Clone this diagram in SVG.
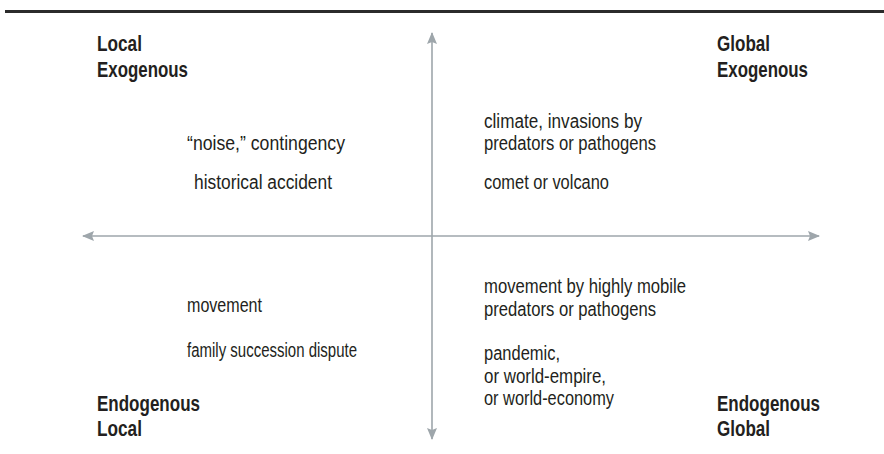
<svg xmlns="http://www.w3.org/2000/svg" width="884" height="454" viewBox="0 0 884 454">
  <style>
    .head { font-family: "Liberation Sans", "DejaVu Sans", sans-serif; font-weight: bold; font-size: 22.5px; fill: #231f20; }
    .item { font-family: "Liberation Sans", "DejaVu Sans", sans-serif; font-size: 19.5px; fill: #231f20; }
    .axis { stroke: #9ea6ab; stroke-width: 1.6; fill: none; }
  </style>
  <defs>
    <marker id="arrow" viewBox="0 0 12 10" refX="11" refY="5" markerWidth="12" markerHeight="10" markerUnits="userSpaceOnUse" orient="auto">
      <path d="M0,0 L12,5 L0,10 L2,5 Z" fill="#9ea6ab"/>
    </marker>
  </defs>

  <rect id="rule" x="5" y="10" width="879" height="3" fill="#2b2b2b"/>

  <g id="axes">
    <line class="axis" x1="432" y1="236" x2="432" y2="33" marker-end="url(#arrow)"/>
    <line class="axis" x1="432" y1="236" x2="432" y2="439" marker-end="url(#arrow)"/>
    <line class="axis" x1="432" y1="236" x2="83" y2="236" marker-end="url(#arrow)"/>
    <line class="axis" x1="432" y1="236" x2="819" y2="236" marker-end="url(#arrow)"/>
  </g>

  <g id="corner-top-left">
    <text class="head" x="97" y="51" textLength="45" lengthAdjust="spacingAndGlyphs">Local</text>
    <text class="head" x="97" y="77" textLength="91" lengthAdjust="spacingAndGlyphs">Exogenous</text>
  </g>
  <g id="corner-top-right">
    <text class="head" x="717" y="51" textLength="53" lengthAdjust="spacingAndGlyphs">Global</text>
    <text class="head" x="717" y="77" textLength="91" lengthAdjust="spacingAndGlyphs">Exogenous</text>
  </g>
  <g id="corner-bottom-left">
    <text class="head" x="97" y="411" textLength="103" lengthAdjust="spacingAndGlyphs">Endogenous</text>
    <text class="head" x="97" y="436" textLength="45" lengthAdjust="spacingAndGlyphs">Local</text>
  </g>
  <g id="corner-bottom-right">
    <text class="head" x="717" y="411" textLength="103" lengthAdjust="spacingAndGlyphs">Endogenous</text>
    <text class="head" x="717" y="436" textLength="53" lengthAdjust="spacingAndGlyphs">Global</text>
  </g>

  <g id="quadrant-local-exogenous">
    <text class="item" x="187" y="150" textLength="158" lengthAdjust="spacingAndGlyphs">“noise,”  contingency</text>
    <text class="item" x="194" y="189" textLength="138" lengthAdjust="spacingAndGlyphs">historical accident</text>
  </g>
  <g id="quadrant-global-exogenous">
    <text class="item" x="484" y="128" textLength="158" lengthAdjust="spacingAndGlyphs">climate, invasions by</text>
    <text class="item" x="484" y="150" textLength="172" lengthAdjust="spacingAndGlyphs">predators or pathogens</text>
    <text class="item" x="484" y="189" textLength="125" lengthAdjust="spacingAndGlyphs">comet or volcano</text>
  </g>
  <g id="quadrant-local-endogenous">
    <text class="item" x="187" y="312" textLength="75" lengthAdjust="spacingAndGlyphs">movement</text>
    <text class="item" x="187" y="357" textLength="170" lengthAdjust="spacingAndGlyphs">family succession dispute</text>
  </g>
  <g id="quadrant-global-endogenous">
    <text class="item" x="484" y="293" textLength="202" lengthAdjust="spacingAndGlyphs">movement by highly mobile</text>
    <text class="item" x="484" y="316" textLength="172" lengthAdjust="spacingAndGlyphs">predators or pathogens</text>
    <text class="item" x="484" y="360" textLength="76" lengthAdjust="spacingAndGlyphs">pandemic,</text>
    <text class="item" x="484" y="383" textLength="122" lengthAdjust="spacingAndGlyphs">or world-empire,</text>
    <text class="item" x="484" y="405" textLength="130" lengthAdjust="spacingAndGlyphs">or world-economy</text>
  </g>
</svg>
